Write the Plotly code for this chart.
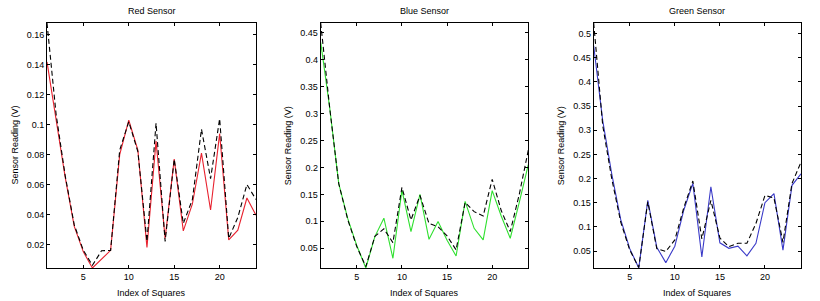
import plotly.graph_objects as go

idx = list(range(1, 25))

red_meas = [0.142, 0.105, 0.065, 0.032, 0.015, 0.0042, 0.010, 0.016, 0.080, 0.103, 0.083, 0.018,
            0.089, 0.024, 0.077, 0.029, 0.047, 0.081, 0.043, 0.094, 0.023, 0.0295, 0.051, 0.0395]
red_model = [0.168, 0.107, 0.066, 0.033, 0.016, 0.006, 0.0157, 0.016, 0.083, 0.102, 0.082, 0.022,
             0.101, 0.022, 0.077, 0.034, 0.050, 0.097, 0.064, 0.104, 0.024, 0.038, 0.060, 0.050]

blue_meas = [0.432, 0.31, 0.17, 0.105, 0.055, 0.0134, 0.0716, 0.1058, 0.0314, 0.158, 0.081, 0.150,
             0.0667, 0.0995, 0.065, 0.0357, 0.137, 0.087, 0.0655, 0.157, 0.110, 0.0686, 0.135, 0.205]
blue_model = [0.468, 0.31, 0.17, 0.103, 0.053, 0.016, 0.072, 0.086, 0.0604, 0.163, 0.1026, 0.148,
              0.096, 0.090, 0.073, 0.047, 0.135, 0.118, 0.110, 0.178, 0.120, 0.081, 0.150, 0.232]

green_meas = [0.475, 0.32, 0.21, 0.115, 0.055, 0.0149, 0.155, 0.058, 0.026, 0.060, 0.135, 0.190,
              0.038, 0.183, 0.067, 0.0556, 0.060, 0.040, 0.066, 0.150, 0.169, 0.052, 0.186, 0.210]
green_model = [0.522, 0.31, 0.20, 0.110, 0.052, 0.016, 0.152, 0.055, 0.049, 0.073, 0.140, 0.195,
               0.075, 0.155, 0.077, 0.059, 0.066, 0.066, 0.107, 0.165, 0.160, 0.068, 0.190, 0.234]

titles = ["Red Sensor", "Blue Sensor", "Green Sensor"]
colors = ["#e8212e", "#2fe02f", "#3a3ac8"]
ytick_sets = [
    [0.02, 0.04, 0.06, 0.08, 0.1, 0.12, 0.14, 0.16],
    [0.05, 0.1, 0.15, 0.2, 0.25, 0.3, 0.35, 0.4, 0.45],
    [0.05, 0.1, 0.15, 0.2, 0.25, 0.3, 0.35, 0.4, 0.45, 0.5],
]
xticks = [5, 10, 15, 20]

W, H = 820, 301
x_px = [(47, 256), (320.7, 528.3), (593.7, 801)]
y_top, y_bot = 23, 268

series = [(red_meas, red_model), (blue_meas, blue_model), (green_meas, green_model)]

fig = go.Figure()
FONT = "Liberation Sans, Arial, sans-serif"
annotations = []
for i, ((meas, model), col, title, yt, (x0, x1)) in enumerate(zip(series, colors, titles, ytick_sets, x_px)):
    n = "" if i == 0 else str(i + 1)
    xa, ya = "x" + n, "y" + n
    fig.add_trace(go.Scatter(x=idx, y=meas, mode="lines", line=dict(color=col, width=1.1),
                             xaxis=xa, yaxis=ya, showlegend=False))
    fig.add_trace(go.Scatter(x=idx, y=model, mode="lines", line=dict(color="black", width=1.1, dash="5px,3px"),
                             xaxis=xa, yaxis=ya, showlegend=False))
    lo = min(min(meas), min(model))
    hi = max(max(meas), max(model))
    axcommon = dict(showline=True, linecolor="black", linewidth=1, mirror="ticks", ticks="inside",
                    ticklen=3, tickcolor="black", showgrid=False, zeroline=False,
                    tickfont=dict(family=FONT, size=9, color="black"))
    fig.update_layout(**{
        "xaxis" + n: dict(domain=[x0 / W, x1 / W], range=[1, 24], tickvals=xticks, anchor=ya, **axcommon),
        "yaxis" + n: dict(domain=[1 - y_bot / H, 1 - y_top / H], range=[lo, hi], tickvals=yt, anchor=xa, **axcommon),
    })
    cx = (x0 + x1) / 2 / W
    annotations.append(dict(text=title, x=cx, y=1 - 11 / H, xref="paper", yref="paper", showarrow=False,
                            font=dict(family=FONT, size=9, color="black"), xanchor="center", yanchor="middle"))
    annotations.append(dict(text="Index of Squares", x=cx, y=1 - 293 / H, xref="paper", yref="paper",
                            showarrow=False, font=dict(family=FONT, size=9, color="black"),
                            xanchor="center", yanchor="middle"))
    annotations.append(dict(text="Sensor Reading (V)", x=(x0 - 33) / W, y=1 - (y_top + y_bot) / 2 / H,
                            xref="paper", yref="paper", showarrow=False, textangle=-90,
                            font=dict(family=FONT, size=9, color="black"), xanchor="center", yanchor="middle"))

fig.update_layout(width=W, height=H, margin=dict(l=0, r=0, t=0, b=0), paper_bgcolor="white",
                  plot_bgcolor="white", annotations=annotations)
fig.write_html("out.html")
